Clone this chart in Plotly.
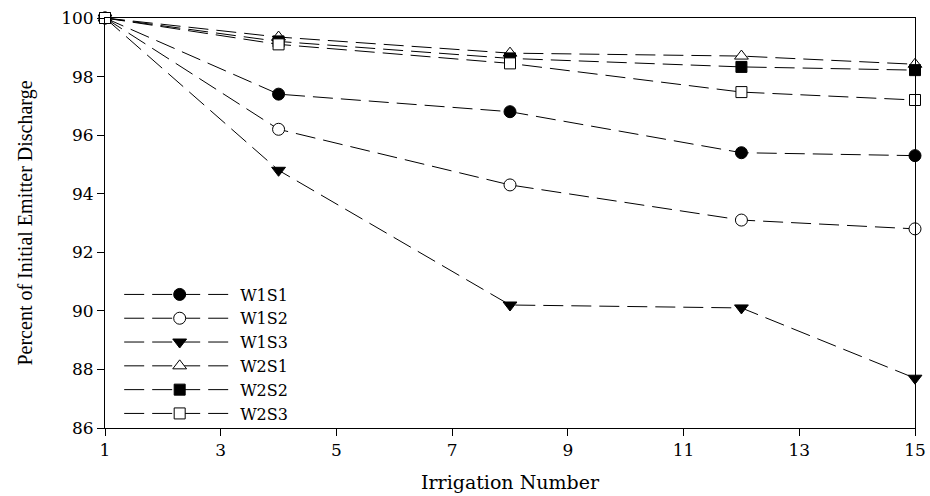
import plotly.graph_objects as go

irrigation = [1, 4, 8, 12, 15]
series_names = ["W1S1", "W1S2", "W1S3", "W2S1", "W2S2", "W2S3"]
w1s1 = [100, 97.4, 96.8, 95.4, 95.3]
w1s2 = [100, 96.2, 94.3, 93.1, 92.8]
w1s3 = [100, 94.8, 90.2, 90.1, 87.7]
w2s1 = [100, 99.35, 98.8, 98.7, 98.42]
w2s2 = [100, 99.2, 98.62, 98.33, 98.22]
w2s3 = [100, 99.1, 98.45, 97.47, 97.2]
x_ticks = [1, 3, 5, 7, 9, 11, 13, 15]
y_ticks = [86, 88, 90, 92, 94, 96, 98, 100]

values = [w1s1, w1s2, w1s3, w2s1, w2s2, w2s3]
symbols = ["circle", "circle", "triangle-down", "triangle-up", "square", "square"]
fills = ["black", "white", "black", "white", "black", "white"]
sizes = [12, 12, 12, 12, 11, 11]

fig = go.Figure()
for name, v, sym, fc, sz in zip(series_names, values, symbols, fills, sizes):
    fig.add_trace(go.Scatter(
        x=irrigation, y=v, name=name, mode="lines+markers",
        line=dict(color="black", width=1, dash="20px,8px"),
        marker=dict(symbol=sym, size=sz, color=fc, line=dict(color="black", width=1)),
        cliponaxis=False,
    ))

wide_font = "DejaVu Serif"
fig.update_layout(
    width=930, height=496,
    margin=dict(l=105, r=15, t=18, b=68, autoexpand=False),
    plot_bgcolor="white", paper_bgcolor="white",
    font=dict(family=wide_font, color="black", size=16),
    showlegend=True,
    legend=dict(
        x=0.0175, y=0.367, xanchor="left", yanchor="top",
        bgcolor="rgba(0,0,0,0)", itemwidth=111,
        font=dict(family=wide_font, size=16, color="black"),
        tracegroupgap=0,
    ),
    xaxis=dict(
        range=[1, 15], tickmode="array", tickvals=x_ticks, ticktext=[str(t) for t in x_ticks],
        showgrid=False, zeroline=False, showline=True, linecolor="black", linewidth=1,
        mirror=True, ticks="outside", ticklen=7, tickcolor="black",
        title=dict(text="Irrigation Number", font=dict(family=wide_font, size=19), standoff=16),
        tickfont=dict(family=wide_font, size=17),
    ),
    yaxis=dict(
        range=[86, 100], tickmode="array", tickvals=y_ticks, ticktext=[str(t) for t in y_ticks],
        showgrid=False, zeroline=False, showline=True, linecolor="black", linewidth=1,
        mirror=True, ticks="outside", ticklen=7, tickcolor="black",
        title=dict(text="Percent of Initial Emitter Discharge",
                   font=dict(family="Liberation Serif", size=20), standoff=23),
        tickfont=dict(family=wide_font, size=17),
    ),
)
fig.write_html(
    "out.html",
    config={"displayModeBar": False},
    post_script="document.body.style.margin='0';document.body.style.overflow='hidden';",
)
